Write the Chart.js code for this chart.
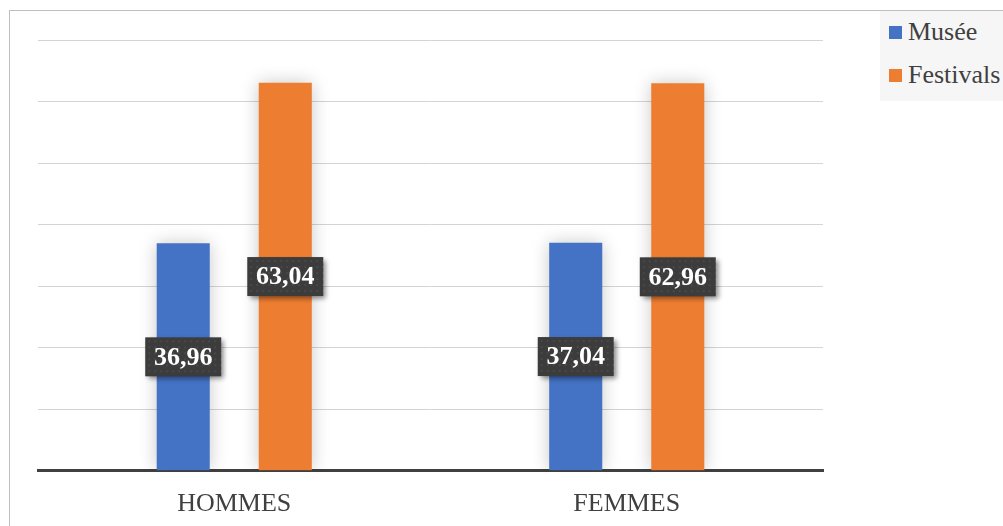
<!DOCTYPE html>
<html>
<head>
<meta charset="utf-8">
<script src="https://cdn.jsdelivr.net/npm/chart.js@4/dist/chart.umd.min.js"></script>
<style>
  html, body { margin: 0; padding: 0; background: #fff; }
  #wrap { position: relative; width: 1003px; height: 526px; overflow: hidden; }
  #frame { position: absolute; left: 9px; top: 10px; width: 1000px; height: 530px;
           border-left: 1px solid #bfbfbf; border-top: 1px solid #bfbfbf; box-sizing: border-box; }
  #legend { position: absolute; left: 880px; top: 11px; width: 130px; height: 90px; background: #f6f6f6;
            font-family: 'Liberation Serif', 'Times New Roman', serif; font-size: 26px; color: #404040; }
  .item { position: absolute; left: 9px; height: 30px; line-height: 30px; white-space: nowrap; }
  .sw { display: inline-block; width: 13px; height: 13px; margin-right: 6px; vertical-align: 1px; }
  canvas { position: absolute; left: 0; top: 0; }
</style>
</head>
<body>
<div id="wrap">
  <div id="frame"></div>
  <canvas id="grafico" width="1003" height="526"></canvas>
  <div id="legend"></div>
</div>
<script>
const categorias = ['HOMMES', 'FEMMES'];
const series = ['Musée', 'Festivals'];
const valoresMusee = [36.96, 37.04];
const valoresFestivals = [63.04, 62.96];
const cores = ['#4472C4', '#ED7D31'];

// legenda em HTML
const legenda = document.getElementById('legend');
series.forEach(function (nome, i) {
    const item = document.createElement('div');
    item.className = 'item';
    item.style.top = (i * 43 + 6) + 'px';
    item.innerHTML = '<span class="sw" style="background:' + cores[i] + '"></span>' + nome;
    legenda.appendChild(item);
});

// sombra suave nas barras
const sombraBarras = {
    id: 'sombraBarras',
    beforeDatasetsDraw(chart) {
        const ctx = chart.ctx;
        ctx.save();
        ctx.shadowColor = 'rgba(0,0,0,0.22)';
        ctx.shadowBlur = 18;
    },
    afterDatasetsDraw(chart) {
        chart.ctx.restore();
    }
};

// rótulos com caixa escura
const rotulos = {
    id: 'rotulos',
    afterDatasetsDraw(chart) {
        const ctx = chart.ctx;
        chart.data.datasets.forEach(function (ds, i) {
            const meta = chart.getDatasetMeta(i);
            meta.data.forEach(function (bar, j) {
                const cx = bar.x;
                const cy = (bar.y + bar.base) / 2;
                const w = 76, h = 39;
                ctx.save();
                ctx.shadowColor = 'rgba(0,0,0,0.45)';
                ctx.shadowBlur = 5;
                ctx.shadowOffsetX = 3;
                ctx.shadowOffsetY = 3;
                ctx.fillStyle = '#3c3c3c';
                ctx.fillRect(cx - w / 2, cy - h / 2, w, h);
                ctx.restore();
                // pontilhado
                ctx.save();
                ctx.fillStyle = 'rgba(255,255,255,0.07)';
                for (let px = cx - w / 2 + 3; px < cx + w / 2; px += 6) {
                    for (let py = cy - h / 2 + 3; py < cy + h / 2; py += 6) {
                        ctx.fillRect(px, py, 2, 2);
                    }
                }
                ctx.fillStyle = '#ffffff';
                ctx.font = 'bold 26px "Liberation Serif", "Times New Roman", serif';
                ctx.textAlign = 'center';
                ctx.textBaseline = 'middle';
                ctx.fillText(ds.data[j].toFixed(2).replace('.', ','), cx, cy + 1);
                ctx.restore();
            });
        });
    }
};

new Chart(document.getElementById('grafico').getContext('2d'), {
    type: 'bar',
    data: {
        labels: categorias,
        datasets: [
            { label: series[0], data: valoresMusee, backgroundColor: cores[0] },
            { label: series[1], data: valoresFestivals, backgroundColor: cores[1] }
        ]
    },
    options: {
        responsive: false,
        animation: false,
        devicePixelRatio: 1,
        categoryPercentage: 0.52,
        barPercentage: 0.52,
        layout: {
            padding: { left: 38, right: 180, top: 40, bottom: -12 }
        },
        scales: {
            y: {
                min: 0,
                max: 70,
                ticks: { display: false, stepSize: 10 },
                border: { display: false },
                grid: { color: '#d4d4d4', lineWidth: 1, drawTicks: false }
            },
            x: {
                grid: { display: false, drawTicks: false },
                border: { color: '#404040', width: 3 },
                ticks: {
                    color: '#404040',
                    padding: 18,
                    font: { family: '"Liberation Serif", "Times New Roman", serif', size: 26 }
                }
            }
        },
        plugins: {
            legend: { display: false },
            tooltip: { enabled: false }
        }
    },
    plugins: [sombraBarras, rotulos]
});
</script>
</body>
</html>
